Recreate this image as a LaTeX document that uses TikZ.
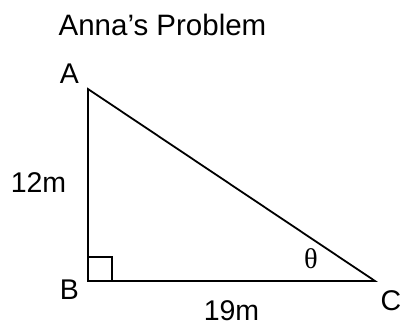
\documentclass[tikz,border=0pt]{standalone}
\usepackage{fontspec}
\setmainfont{Liberation Sans}
\newfontfamily\greekfont{Liberation Serif}
\usetikzlibrary{positioning,calc}
\tikzset{
  ptlabel/.style={
    font=\fontsize{28.5}{34}\selectfont,
    anchor=base, inner sep=0pt
  },
  side/.style={
    line width=1.8pt, color=black, line join=miter
  },
}
\begin{document}
\begin{tikzpicture}[x=1pt, y=1pt]
  \useasboundingbox (0,0) rectangle (401,-325);
  \coordinate (A) at (88,-89);
  \coordinate (B) at (88,-281);
  \coordinate (C) at (375,-281);
  \node[ptlabel, font=\fontsize{29.5}{34}\selectfont] (title) at (162.5,-35) {Anna’s Problem};
  \node[ptlabel] (labA) at (69.5,-83) {A};
  \node[ptlabel] (labB) at (69.5,-299) {B};
  \node[ptlabel] (labC) at (391,-310) {C};
  \node[ptlabel] (ab) at (38.5,-192) {12m};
  \node[ptlabel] (bc) at (231.5,-320) {19m};
  \node[ptlabel, font=\fontsize{28.5}{34}\greekfont] (theta) at (311,-268) {θ};
  \draw[side] (A) -- (B) -- (C) -- cycle;
  \draw[side] ([yshift=24pt]B) -| ([xshift=24pt]B);
\end{tikzpicture}
\end{document}
